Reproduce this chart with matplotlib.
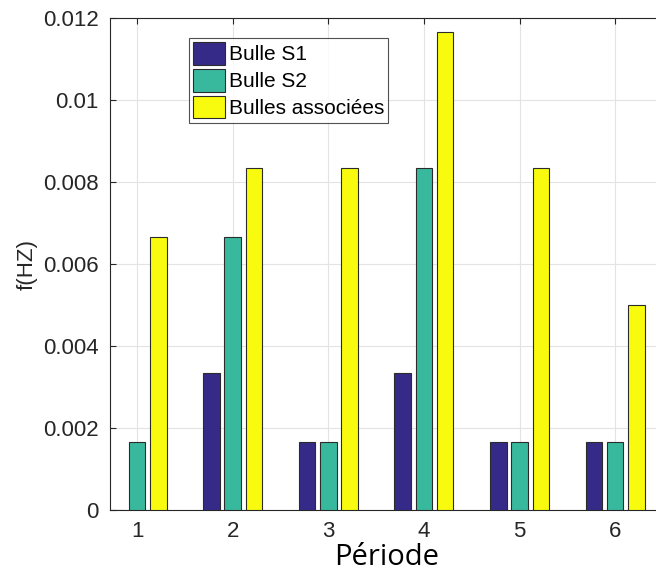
import matplotlib
matplotlib.use("Agg")
import matplotlib.pyplot as plt
import numpy as np

periods = [1, 2, 3, 4, 5, 6]
bulle_s1 = [0.0, 0.003333, 0.001667, 0.003333, 0.001667, 0.001667]
bulle_s2 = [0.001667, 0.006667, 0.001667, 0.008333, 0.001667, 0.001667]
bulles_assoc = [0.006667, 0.008333, 0.008333, 0.011667, 0.008333, 0.005]
series_names = ["Bulle S1", "Bulle S2", "Bulles associées"]
colors = ["#352a87", "#38b99e", "#f9fb0e"]
yticks = [0, 0.002, 0.004, 0.006, 0.008, 0.01, 0.012]
ytick_labels = ["0", "0.002", "0.004", "0.006", "0.008", "0.01", "0.012"]

plt.rcParams["font.family"] = ["Liberation Sans", "DejaVu Sans"]

fig = plt.figure(figsize=(6.56, 5.76), dpi=100)
ax = fig.add_axes([0.1677, 0.1146, 0.843, 0.854])

x = np.array(periods, dtype=float)
offsets = [-0.222, 0.0, 0.222]
width = 0.173
for vals, off, col, name in zip([bulle_s1, bulle_s2, bulles_assoc], offsets, colors, series_names):
    ax.bar(x + off, vals, width=width, color=col, edgecolor="#2b2b2b",
           linewidth=0.8, label=name, zorder=3)

ax.set_xlim(0.717, 6.5)
ax.set_ylim(0, 0.012)
ax.set_xticks(periods)
ax.set_xticklabels([str(p) for p in periods])
ax.set_yticks(yticks)
ax.set_yticklabels(ytick_labels)
ax.tick_params(direction="in", top=True, right=False, length=4, width=0.8,
               colors="#262626", labelsize=16, pad=8)
ax.grid(True, color="#e3e3e3", linewidth=0.8, zorder=0)
ax.set_axisbelow(True)
for side in ["left", "bottom", "top"]:
    ax.spines[side].set_color("#262626")
    ax.spines[side].set_linewidth(0.8)
ax.spines["right"].set_visible(False)

ax.set_xlabel("Période", fontsize=21, family=["Open Sans", "DejaVu Sans"],
              color="black", labelpad=1)
ax.set_ylabel("f(HZ)", fontsize=16, color="#262626", labelpad=4)

leg = ax.legend(loc="upper left", bbox_to_anchor=(0.143, 0.96), fontsize=15,
                frameon=True, fancybox=False, edgecolor="#262626",
                handlelength=1.5, handleheight=1.3, handletextpad=0.2,
                borderpad=0.2, labelspacing=0.2, borderaxespad=0)
leg.get_frame().set_linewidth(0.8)

fig.savefig("out.png", dpi=100)
